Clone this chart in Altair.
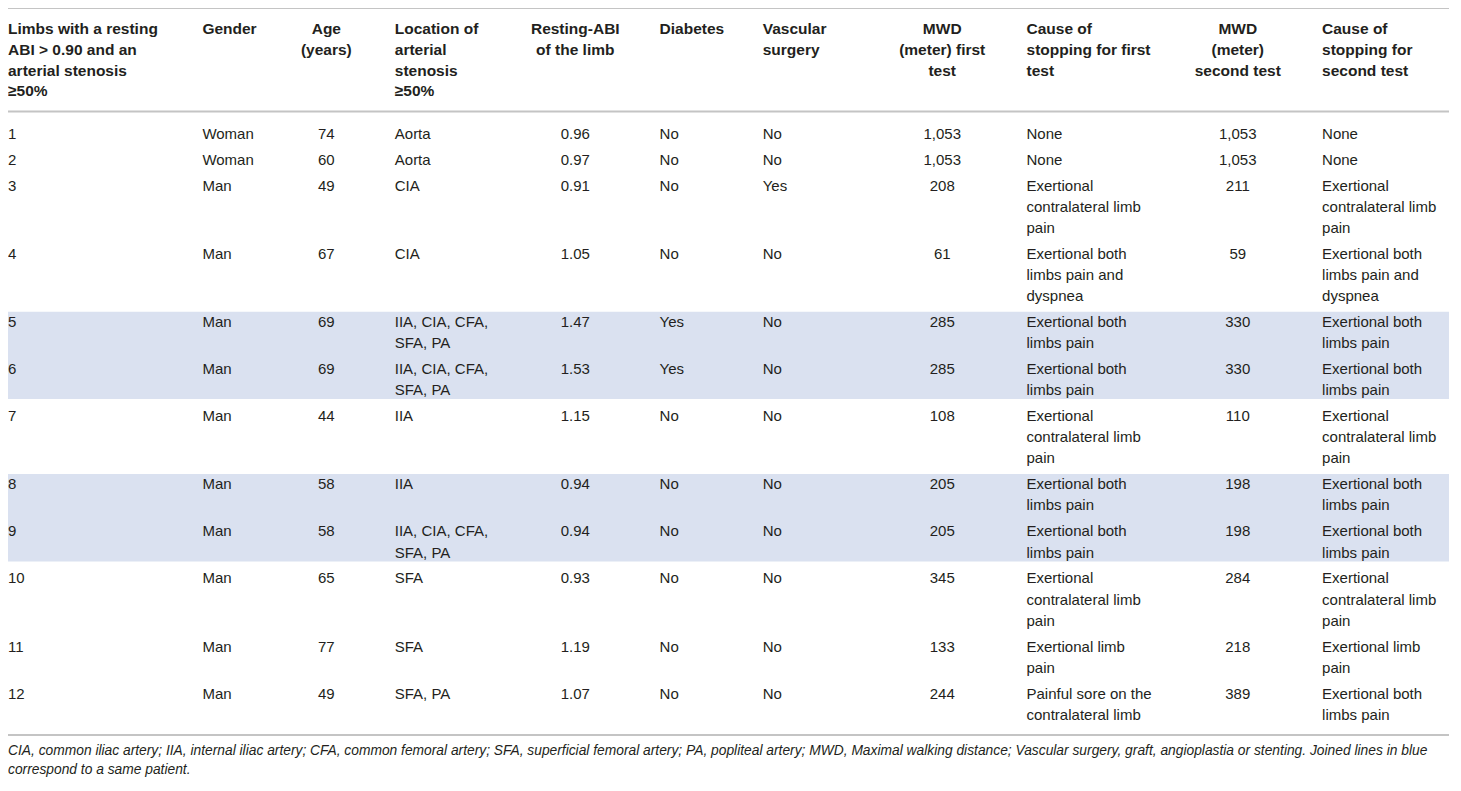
import altair as alt
import pandas as pd

headers = [
    "Limbs with a resting\nABI > 0.90 and an\narterial stenosis\n≥50%",
    "Gender",
    "Age\n(years)",
    "Location of\narterial\nstenosis\n≥50%",
    "Resting-ABI\nof the limb",
    "Diabetes",
    "Vascular\nsurgery",
    "MWD\n(meter) first\ntest",
    "Cause of\nstopping for first\ntest",
    "MWD\n(meter)\nsecond test",
    "Cause of\nstopping for\nsecond test",
]

limb = ["1", "2", "3", "4", "5", "6", "7", "8", "9", "10", "11", "12"]
gender = ["Woman", "Woman", "Man", "Man", "Man", "Man", "Man", "Man", "Man", "Man", "Man", "Man"]
age = ["74", "60", "49", "67", "69", "69", "44", "58", "58", "65", "77", "49"]
location = ["Aorta", "Aorta", "CIA", "CIA", "IIA, CIA, CFA,\nSFA, PA", "IIA, CIA, CFA,\nSFA, PA",
            "IIA", "IIA", "IIA, CIA, CFA,\nSFA, PA", "SFA", "SFA", "SFA, PA"]
abi = ["0.96", "0.97", "0.91", "1.05", "1.47", "1.53", "1.15", "0.94", "0.94", "0.93", "1.19", "1.07"]
diabetes = ["No", "No", "No", "No", "Yes", "Yes", "No", "No", "No", "No", "No", "No"]
surgery = ["No", "No", "Yes", "No", "No", "No", "No", "No", "No", "No", "No", "No"]
mwd_first = ["1,053", "1,053", "208", "61", "285", "285", "108", "205", "205", "345", "133", "244"]
cause_first = [
    "None", "None",
    "Exertional\ncontralateral limb\npain",
    "Exertional both\nlimbs pain and\ndyspnea",
    "Exertional both\nlimbs pain", "Exertional both\nlimbs pain",
    "Exertional\ncontralateral limb\npain",
    "Exertional both\nlimbs pain", "Exertional both\nlimbs pain",
    "Exertional\ncontralateral limb\npain",
    "Exertional limb\npain",
    "Painful sore on the\ncontralateral limb",
]
mwd_second = ["1,053", "1,053", "211", "59", "330", "330", "110", "198", "198", "284", "218", "389"]
cause_second = [
    "None", "None",
    "Exertional\ncontralateral limb\npain",
    "Exertional both\nlimbs pain and\ndyspnea",
    "Exertional both\nlimbs pain", "Exertional both\nlimbs pain",
    "Exertional\ncontralateral limb\npain",
    "Exertional both\nlimbs pain", "Exertional both\nlimbs pain",
    "Exertional\ncontralateral limb\npain",
    "Exertional limb\npain",
    "Exertional both\nlimbs pain",
]
same_patient_groups = [(5, 6), (8, 9)]   # joined rows shaded blue

footnote = [
    "CIA, common iliac artery; IIA, internal iliac artery; CFA, common femoral artery; SFA, superficial femoral artery; "
    "PA, popliteal artery; MWD, Maximal walking distance; Vascular surgery, graft, angioplastia or stenting. Joined lines in blue",
    "correspond to a same patient.",
]

# ---------------- layout ----------------
W, H = 1441, 770
X_DOM = [4, 1457]
Y_DOM = [4, 785]
col_x = [4, 200, 325, 394, 576, 661, 765, 946, 1031, 1244, 1329]
col_align = ["left", "left", "center", "left", "center", "left", "left", "center", "left", "center", "left"]
LH = 21.5          # body line height
ROW_PAD = 4.7
HEAD_Y0, HEAD_LH = 25, 21.2
TOP_RULE, HEAD_RULE = 4, 109
ROW1_Y = 131.7
FOOT_Y = [758, 776.5]
FONT = "Liberation Sans"
TEXT_COLOR = "#231f20"
RULE_COLOR = "#c4c4c4"
BAND_COLOR = "#dae1f0"

columns = [limb, gender, age, location, abi, diabetes, surgery,
           mwd_first, cause_first, mwd_second, cause_second]

# header lines
head_rows = []
for ci, h in enumerate(headers):
    for li, line in enumerate(h.split("\n")):
        head_rows.append({"x": col_x[ci], "y": HEAD_Y0 + li * HEAD_LH, "t": line, "al": col_align[ci]})
head_df = pd.DataFrame(head_rows)

# body lines
n_lines = [max(len(col[r].split("\n")) for col in columns) for r in range(len(limb))]
row_y = []
y = ROW1_Y
for n in n_lines:
    row_y.append(y)
    y += ROW_PAD + LH * n
body_rows = []
for ci, col in enumerate(columns):
    for r, cell in enumerate(col):
        for li, line in enumerate(cell.split("\n")):
            body_rows.append({"x": col_x[ci], "y": row_y[r] + li * LH, "t": line, "al": col_align[ci]})
body_df = pd.DataFrame(body_rows)

last_line_y = row_y[-1] + (n_lines[-1] - 1) * LH
BOTTOM_RULE = last_line_y + 20.5

rules_df = pd.DataFrame({"x": [X_DOM[0]] * 3, "x2": [X_DOM[1]] * 3,
                         "y": [TOP_RULE, HEAD_RULE, BOTTOM_RULE]})

bands = []
for a, b in same_patient_groups:
    top = row_y[a - 1] - 10.4
    bot = row_y[b - 1] + (n_lines[b - 1] - 1) * LH + 9
    bands.append({"x": X_DOM[0], "x2": X_DOM[1], "y": top, "y2": bot})
bands_df = pd.DataFrame(bands)

foot_df = pd.DataFrame({"x": [X_DOM[0]] * len(footnote), "y": FOOT_Y, "t": footnote})

xs = alt.Scale(domain=X_DOM, range=[0, W])
ys = alt.Scale(domain=Y_DOM, range=[0, H])
X = alt.X("x:Q", scale=xs, axis=None)
Y = alt.Y("y:Q", scale=ys, axis=None)

band_layer = alt.Chart(bands_df).mark_rect(color=BAND_COLOR).encode(
    x=X, x2="x2:Q", y=Y, y2="y2:Q")
rule_layer = alt.Chart(rules_df).mark_rule(color=RULE_COLOR, strokeWidth=2).encode(
    x=X, x2="x2:Q", y=Y)


def text_layer(df, align, **kw):
    return alt.Chart(df[df["al"] == align]).mark_text(
        align=align, baseline="middle", font=FONT, color=TEXT_COLOR, **kw
    ).encode(x=X, y=Y, text="t:N")


layers = [
    band_layer,
    rule_layer,
    text_layer(head_df, "left", fontSize=15.5, fontWeight="bold"),
    text_layer(head_df, "center", fontSize=15.5, fontWeight="bold"),
    text_layer(body_df, "left", fontSize=15),
    text_layer(body_df, "center", fontSize=15),
    alt.Chart(foot_df).mark_text(align="left", baseline="middle", font=FONT, color=TEXT_COLOR,
                                 fontSize=13.8, fontStyle="italic").encode(x=X, y=Y, text="t:N"),
]

chart = alt.layer(*layers).properties(
    width=W, height=H, padding=0, autosize=alt.AutoSizeParams(type="none")
).configure_view(stroke=None)

chart.save("out.html", embed_options={"renderer": "svg", "actions": False})
